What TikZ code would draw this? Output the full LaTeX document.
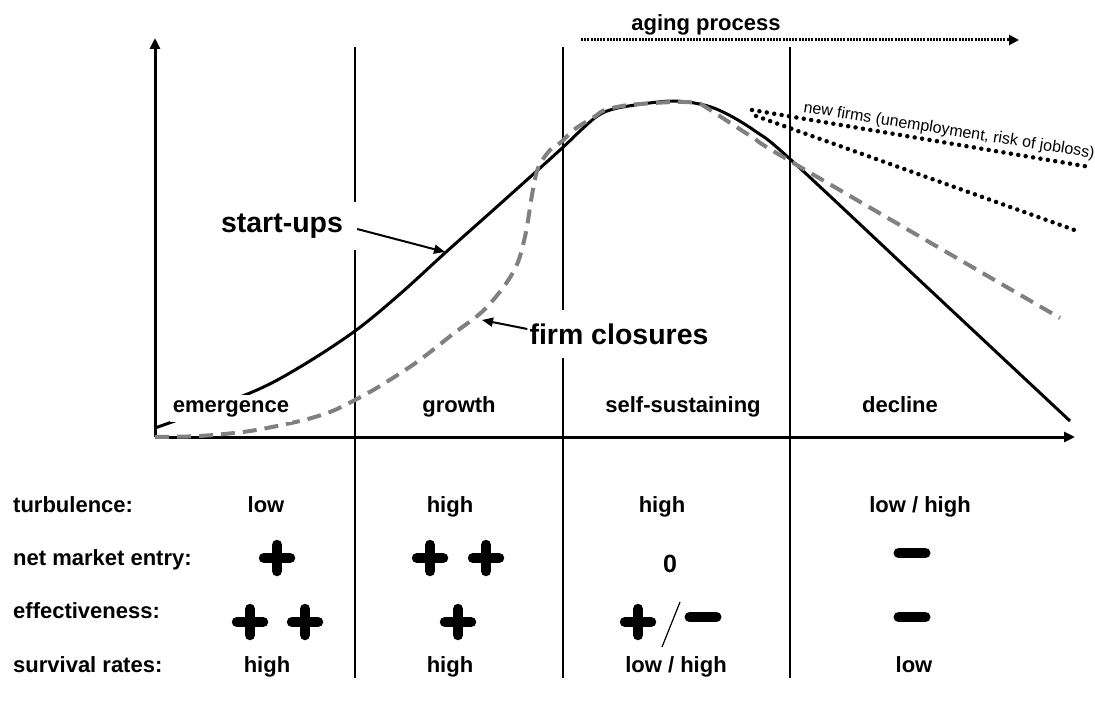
\documentclass[tikz,border=0pt]{standalone}
\usepackage{fontspec}
\setmainfont{Liberation Sans}
\usetikzlibrary{arrows.meta}

\tikzset{
    phase/.style={font=\bfseries\fontsize{22}{26}\selectfont, fill=white, inner ysep=5pt, anchor=base},
    cell/.style={font=\bfseries\fontsize{22}{26}\selectfont, anchor=base},
    rowname/.style={font=\bfseries\fontsize{22}{26}\selectfont, anchor=base west, inner sep=0pt},
    curvename/.style={font=\bfseries\fontsize{28.5}{32}\selectfont, fill=white, minimum height=48pt},
    pointer/.style={line width=2pt, -{Triangle[length=11pt, width=9pt]}},
    axis/.style={line width=3pt, -{Triangle[length=11pt, width=10pt]}},
    divider/.style={line width=2pt},
    dotline/.style={line width=4.5pt, line cap=round, dash pattern=on 0pt off 7.5pt},
    plussign/.pic={\draw[line width=10.5pt, line cap=round] (-13,0) -- (13,0) (0,-13) -- (0,13);},
    minussign/.pic={\draw[line width=10pt, line cap=round] (-13.5,0) -- (13.5,0);}
}

\begin{document}
\begin{tikzpicture}[x=1pt, y=-1pt]
    \useasboundingbox (0,0) rectangle (1095,706);

    % Phase dividers
    \foreach \xpos in {355, 563, 790}
        \draw[divider] (\xpos,47) -- (\xpos,678);

    % Axes
    \coordinate (origin) at (155,437);
    \coordinate (ytop) at (155,38);
    \coordinate (xend) at (1075,437);
    \draw[axis] (origin) -- (ytop);
    \draw[axis] (origin) -- (xend);

    % Aging process
    \coordinate (agestart) at (581,40);
    \coordinate (ageend) at (1019,40);
    \draw[line width=3pt, dash pattern=on 2pt off 1.2pt, -{Triangle[length=10pt, width=10pt]}] (agestart) -- (ageend);
    \node[cell] (aging) at (706,31) {aging process};

    % Start-ups (solid) and firm closures (dashed)
    \draw[line width=3pt] plot[smooth, tension=0.55] coordinates {(155,428) (250,393) (300,367) (355,331) (400,294) (445,253) (500,204) (560,150) (580,131) (596,117) (610,110) (635,105) (673,101) (704,105) (727,114) (755,131) (790,159) (930,290) (1070,421)};
    \draw[line width=4pt, gray, dash pattern=on 14pt off 8pt] plot[smooth, tension=0.5] coordinates {(155,437) (200,436) (250,431) (300,421) (330,412) (355,400) (380,386) (417,362) (453,334) (483,311) (505,285) (518,262) (526,232) (532,195) (538,168) (550,150) (560,143) (575,129) (594,117) (605,110) (629,105) (673,102) (697,103) (707,108) (752,137) (790,161) (1060,318)};

    % New firms
    \coordinate (nfstart) at (752,110);
    \coordinate (nfupper) at (1090,167);
    \coordinate (nfstart2) at (756,116);
    \coordinate (nflower) at (1080,232);
    \draw[dotline] (nfstart) -- (nfupper);
    \draw[dotline] (nfstart2) -- (nflower);
    \node[font=\fontsize{16}{19}\selectfont, rotate=-9] (newfirms) at (949,131) {new firms (unemployment, risk of jobloss)};

    % Curve labels
    \coordinate (sutip) at (445,252);
    \coordinate (fctip) at (482,320);
    \node[curvename, inner xsep=14pt] (startups) at (282,226) {start-ups};
    \node[curvename, inner xsep=2pt] (closures) at (619,334) {firm closures};
    \draw[pointer] ([yshift=-3pt]startups.east) -- (sutip);
    \draw[pointer] ([yshift=5pt]closures.west) -- (fctip);

    % Phases
    \node[phase] (emergence) at (231,412) {emergence};
    \node[phase] (growth) at (459,412) {growth};
    \node[phase] (selfsus) at (683,412) {self-sustaining};
    \node[phase] (decline) at (900,412) {decline};

    % Row names
    \node[rowname] (turb) at (13,512) {turbulence:};
    \node[rowname] (entry) at (13,565) {net market entry:};
    \node[rowname] (effect) at (13,618) {effectiveness:};
    \node[rowname] (surv) at (13,672) {survival rates:};

    % Turbulence
    \node[cell] (turbA) at (266,512) {low};
    \node[cell] (turbB) at (450,512) {high};
    \node[cell] (turbC) at (662,512) {high};
    \node[cell] (turbD) at (920,512) {low / high};

    % Net market entry
    \pic at (277,558) {plussign};
    \pic at (430,558) {plussign};
    \pic at (486,558) {plussign};
    \node[cell, font=\bfseries\fontsize{25}{29}\selectfont] (entryC) at (670,572) {0};
    \pic at (912,553) {minussign};

    % Effectiveness
    \pic at (250,622) {plussign};
    \pic at (305,622) {plussign};
    \pic at (458,622) {plussign};
    \pic at (638,622) {plussign};
    \coordinate (slashtop) at (680,602);
    \coordinate (slashbot) at (662,647);
    \draw[line width=1.2pt] (slashtop) -- (slashbot);
    \pic at (703,617) {minussign};
    \pic at (912,617) {minussign};

    % Survival rates
    \node[cell] (survA) at (267,672) {high};
    \node[cell] (survB) at (450,672) {high};
    \node[cell] (survC) at (676,672) {low / high};
    \node[cell] (survD) at (914,672) {low};
\end{tikzpicture}
\end{document}
